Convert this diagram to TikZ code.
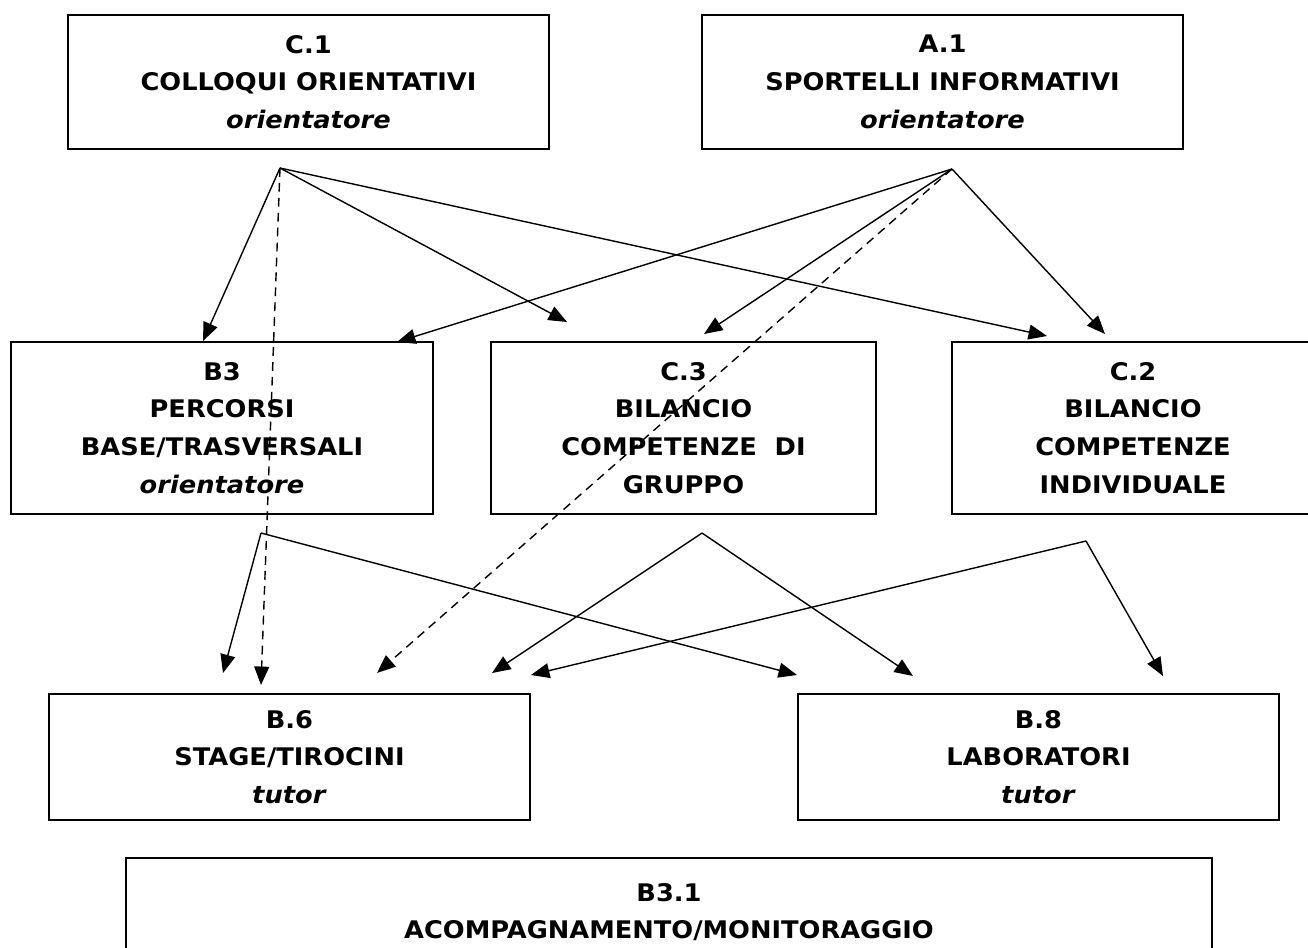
\documentclass[tikz,border=0pt]{standalone}
\usepackage{fontspec}
\setmainfont{DejaVu Sans}[FakeStretch=1.06]
\usepackage{tikz}
\usetikzlibrary{arrows.meta}

\tikzset{
  box/.style={rectangle, draw, line width=1pt, align=center, inner sep=0pt,
    font=\bfseries\fontsize{13.8}{21.5}\selectfont},
  link/.style={-{Triangle[length=10.5pt,width=8.5pt]}, line width=0.8pt},
  dlink/.style={link, dash pattern=on 5pt off 3.5pt},
}

\begin{document}
\begin{tikzpicture}[x=0.02cm, y=-0.02cm]
    \useasboundingbox (0,0) rectangle (1308,947);
    \clip (0,0) rectangle (1308,947);

    % boxes
    \node (c1) [box, minimum width=9.62cm, minimum height=2.68cm] at (308.5,82) {C.1\\COLLOQUI ORIENTATIVI\\\textit{orientatore}};
    \node (a1) [box, minimum width=9.62cm, minimum height=2.68cm] at (942.5,82) {A.1\\SPORTELLI INFORMATIVI\\\textit{orientatore}};
    \node (b3) [box, minimum width=8.44cm, minimum height=3.44cm] at (222,428) {B3\\PERCORSI\\BASE/TRASVERSALI\\\textit{orientatore}};
    \node (c3) [box, minimum width=7.7cm, minimum height=3.44cm] at (683.5,428) {C.3\\BILANCIO\\COMPETENZE\ \ DI\\GRUPPO};
    \node (c2) [box, minimum width=7.24cm, minimum height=3.44cm] at (1133,428) {C.2\\BILANCIO\\COMPETENZE\\INDIVIDUALE};
    \node (b6) [box, minimum width=9.62cm, minimum height=2.52cm] at (289.5,757) {B.6\\STAGE/TIROCINI\\\textit{tutor}};
    \node (b8) [box, minimum width=9.62cm, minimum height=2.52cm] at (1038.5,757) {B.8\\LABORATORI\\\textit{tutor}};
    \node (b31) [box, minimum width=21.72cm, minimum height=2.16cm] at (669,912) {B3.1\\ACOMPAGNAMENTO/MONITORAGGIO};

    % start points below the boxes
    \coordinate (c1out) at (280,168);
    \coordinate (a1out) at (952,169);
    \coordinate (b3out) at (261,533);
    \coordinate (c3out) at (702,533);
    \coordinate (c2out) at (1086,541);

    % arrow ends
    \coordinate (b3inL) at (203,341);
    \coordinate (b3inR) at (397,342);
    \coordinate (c3inL) at (567,322);
    \coordinate (c3inR) at (704,334);
    \coordinate (c2inL) at (1047,336);
    \coordinate (c2inR) at (1105,334);
    \coordinate (b6in1) at (223,673);
    \coordinate (b6in2) at (261,685);
    \coordinate (b6in3) at (377,673);
    \coordinate (b6in4) at (492,673);
    \coordinate (b6in5) at (531,675);
    \coordinate (b8in1) at (797,675);
    \coordinate (b8in2) at (913,676);
    \coordinate (b8in3) at (1163,676);

    \draw [link] (c1out) -- (b3inL);
    \draw [link] (c1out) -- (c3inL);
    \draw [link] (c1out) -- (c2inL);
    \draw [dlink] (c1out) -- (b6in2);

    \draw [link] (a1out) -- (b3inR);
    \draw [link] (a1out) -- (c3inR);
    \draw [link] (a1out) -- (c2inR);
    \draw [dlink] (a1out) -- (b6in3);

    \draw [link] (b3out) -- (b6in1);
    \draw [link] (b3out) -- (b8in1);
    \draw [link] (c3out) -- (b6in4);
    \draw [link] (c3out) -- (b8in2);
    \draw [link] (c2out) -- (b6in5);
    \draw [link] (c2out) -- (b8in3);
\end{tikzpicture}
\end{document}
